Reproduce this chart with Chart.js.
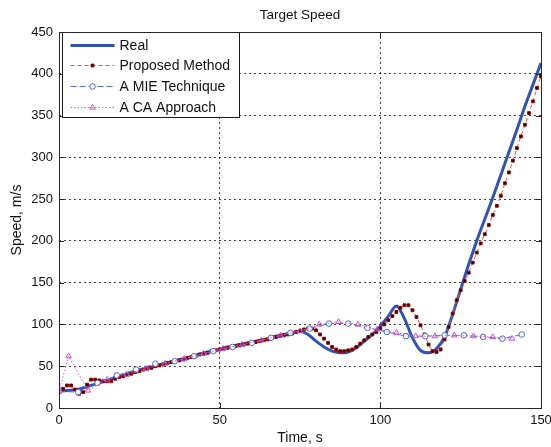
<!DOCTYPE html>
<html>
<head>
<meta charset="utf-8">
<title>Target Speed</title>
<script src="https://cdn.jsdelivr.net/npm/chart.js@4.4.0/dist/chart.umd.min.js"></script>
<style>
  html, body { margin: 0; padding: 0; background: #fff; }
  #wrap { width: 551px; height: 447px; }
</style>
</head>
<body>
<div id="wrap"><canvas id="myChart" width="551" height="447"></canvas></div>
<script>
'use strict';

let chartTitle = 'Target Speed';
let xTitle = 'Time, s';
let yTitle = 'Speed, m/s';
let seriesNames = ['Real', 'Proposed Method', 'A MIE Technique', 'A CA Approach'];
let xTicks = [0, 50, 100, 150];
let yTicks = [0, 50, 100, 150, 200, 250, 300, 350, 400, 450];

// real speed, sampled every 2.5 s
let realStep = 2.5;
let realSpeed = [20, 21, 22, 24, 27, 30, 33, 36, 39, 42,
    45, 48, 50, 53, 55, 58, 60, 63, 66, 68,
    70, 73, 75, 77, 79, 81, 83, 86, 88, 90,
    92, 88, 80, 73, 68, 66, 67, 72, 80, 88,
    98, 110, 122, 107, 84, 69, 66, 71, 85, 112,
    142, 172, 200, 226, 252, 279, 306, 333, 361, 387,
    413];

// proposed method, sampled every 1.25 s
let propStep = 1.25;
let propSpeed = [20, 23, 27, 27, 22, 17, 19, 28, 34, 34,
    33, 32, 32, 32, 35, 37, 38, 40, 41, 43,
    44, 46, 47, 48, 50, 51, 52, 54, 55, 56,
    57, 58, 60, 61, 62, 64, 65, 66, 68, 69,
    70, 71, 72, 73, 74, 75, 76, 77, 78, 79,
    80, 81, 82, 84, 85, 86, 87, 88, 89, 91,
    92, 94, 95, 95, 93, 88, 83, 78, 73, 70,
    68, 68, 69, 70, 73, 77, 81, 85, 88, 91,
    95, 100, 105, 110, 115, 120, 123, 123, 117, 109,
    99, 88, 76, 68, 67, 70, 82, 97, 113, 129,
    141, 152, 162, 174, 186, 197, 208, 219, 231, 242,
    254, 269, 282, 296, 311, 325, 339, 353, 367, 383,
    397];

let mieTime = [0, 6, 12, 18, 24, 30, 36, 42, 48, 54, 60, 66, 72, 78, 84, 90, 96, 102, 108, 114, 120, 126, 132, 138, 144];
let mieSpeed = [20, 19, 30, 39, 46, 53, 56, 62, 68, 73, 78, 84, 90, 95, 101, 101, 96, 91, 86, 86, 87, 87, 85, 83, 88];

let caTime = [0, 3, 9, 15, 21, 27, 33, 39, 45, 51, 57, 63, 69, 75, 81, 87, 93, 99, 105, 111, 117, 123, 129, 135, 141];
let caSpeed = [20, 62, 21, 34, 40, 47, 53, 59, 65, 71, 76, 81, 87, 92, 100, 103, 100, 94, 90, 86, 86, 87, 86, 85, 83];

let fontFamily = '"Liberation Sans", Arial, sans-serif';

function toPoints(times, values) {
    let pts = [];
    for (let i = 0; i < values.length; i++) {
        pts.push({ x: times[i], y: values[i] });
    }
    return pts;
}

function stepTimes(step, n) {
    let t = [];
    for (let i = 0; i < n; i++) {
        t.push(i * step);
    }
    return t;
}

let styles = [
    { color: '#3153b4', width: 3, dash: [], point: null },
    { color: '#ff4848', width: 1, dash: [4, 3], point: 'rect', fill: '#1a0000', edge: '#a00000', r: 2 },
    { color: '#4f6fcc', width: 1, dash: [6, 3], point: 'circle', fill: '#ffffff', edge: '#4a68c8', r: 2.8 },
    { color: '#d458d0', width: 1, dash: [1.5, 2], point: 'triangle', fill: 'rgba(255,255,255,0)', edge: '#c850c8', r: 3.2 }
];

function drawMarker(ctx, s, x, y) {
    if (!s.point) return;
    ctx.save();
    ctx.setLineDash([]);
    ctx.lineWidth = 1;
    ctx.fillStyle = s.fill;
    ctx.strokeStyle = s.edge;
    ctx.beginPath();
    if (s.point === 'rect') {
        let h = s.r * Math.SQRT1_2;
        ctx.rect(x - h, y - h, 2 * h, 2 * h);
    } else if (s.point === 'circle') {
        ctx.arc(x, y, s.r, 0, Math.PI * 2);
    } else {
        let r = s.r;
        ctx.moveTo(x, y - r);
        ctx.lineTo(x + r * 0.866, y + r * 0.5);
        ctx.lineTo(x - r * 0.866, y + r * 0.5);
        ctx.closePath();
    }
    ctx.fill();
    ctx.stroke();
    ctx.restore();
}

let framePlugin = {
    id: 'frame',
    afterDraw(chart) {
        let ctx = chart.ctx;
        let a = chart.chartArea;
        let xs = chart.scales.x;
        let ys = chart.scales.y;
        ctx.save();

        // title
        ctx.fillStyle = '#111';
        ctx.font = '13.5px ' + fontFamily;
        ctx.textAlign = 'center';
        ctx.textBaseline = 'middle';
        ctx.fillText(chartTitle, (a.left + a.right) / 2, 15);

        // inner tick marks
        ctx.strokeStyle = '#262626';
        ctx.lineWidth = 1;
        ctx.beginPath();
        xTicks.forEach(v => {
            let px = Math.round(xs.getPixelForValue(v)) + 0.5;
            ctx.moveTo(px, a.bottom); ctx.lineTo(px, a.bottom - 5);
            ctx.moveTo(px, a.top); ctx.lineTo(px, a.top + 5);
        });
        yTicks.forEach(v => {
            let py = Math.round(ys.getPixelForValue(v)) + 0.5;
            ctx.moveTo(a.left, py); ctx.lineTo(a.left + 5, py);
            ctx.moveTo(a.right, py); ctx.lineTo(a.right - 5, py);
        });
        ctx.stroke();

        // legend box
        let lx = Math.round(a.left) + 3.5, ly = Math.round(a.top) + 0.5;
        let lw = 177, lh = 85;
        ctx.fillStyle = '#fff';
        ctx.fillRect(lx, ly, lw, lh);
        ctx.strokeStyle = '#1a1a1a';
        ctx.strokeRect(lx, ly, lw, lh);
        ctx.font = '14px ' + fontFamily;
        ctx.textAlign = 'left';
        for (let i = 0; i < seriesNames.length; i++) {
            let s = styles[i];
            let y = Math.round(ly + 12 + i * 20.7) + 0.5;
            ctx.save();
            ctx.strokeStyle = s.color;
            ctx.lineWidth = s.width;
            ctx.setLineDash(s.dash);
            ctx.beginPath();
            ctx.moveTo(lx + 8, y);
            ctx.lineTo(lx + 52, y);
            ctx.stroke();
            ctx.restore();
            drawMarker(ctx, s, lx + 30, y);
            ctx.fillStyle = '#111';
            ctx.fillText(seriesNames[i], lx + 57, y + 1);
        }

        // axes box
        ctx.strokeStyle = '#262626';
        ctx.lineWidth = 1;
        ctx.strokeRect(Math.round(a.left) + 0.5, Math.round(a.top) + 0.5,
            Math.round(a.right - a.left), Math.round(a.bottom - a.top));
        ctx.restore();
    }
};

let ctx = document.getElementById('myChart').getContext('2d');
let myChart = new Chart(ctx, {
    type: 'line',
    data: {
        datasets: [
            {
                label: seriesNames[0],
                data: toPoints(stepTimes(realStep, realSpeed.length), realSpeed),
                borderColor: styles[0].color,
                borderWidth: 3,
                pointRadius: 0,
                cubicInterpolationMode: 'monotone',
                order: 4
            },
            {
                label: seriesNames[1],
                data: toPoints(stepTimes(propStep, propSpeed.length), propSpeed),
                borderColor: styles[1].color,
                borderWidth: 1,
                borderDash: styles[1].dash,
                pointStyle: 'rect',
                pointRadius: styles[1].r,
                pointBackgroundColor: styles[1].fill,
                pointBorderColor: styles[1].edge,
                pointBorderWidth: 1,
                order: 3
            },
            {
                label: seriesNames[2],
                data: toPoints(mieTime, mieSpeed),
                borderColor: styles[2].color,
                borderWidth: 1,
                borderDash: styles[2].dash,
                pointStyle: 'circle',
                pointRadius: styles[2].r,
                pointBackgroundColor: styles[2].fill,
                pointBorderColor: styles[2].edge,
                pointBorderWidth: 1,
                order: 2
            },
            {
                label: seriesNames[3],
                data: toPoints(caTime, caSpeed),
                borderColor: styles[3].color,
                borderWidth: 1,
                borderDash: styles[3].dash,
                pointStyle: 'triangle',
                pointRadius: styles[3].r,
                pointBackgroundColor: styles[3].fill,
                pointBorderColor: styles[3].edge,
                pointBorderWidth: 1,
                order: 1
            }
        ]
    },
    options: {
        responsive: false,
        animation: false,
        devicePixelRatio: 1,
        layout: { padding: { top: 32, right: 0, left: 0, bottom: 0 } },
        plugins: {
            legend: { display: false },
            tooltip: { enabled: false },
            title: { display: false }
        },
        elements: { line: { tension: 0, fill: false } },
        scales: {
            x: {
                type: 'linear',
                min: 0,
                max: 150,
                afterFit: scale => {
                    scale.height = 39;
                    scale.paddingRight = 10;
                    scale.paddingLeft = 0;
                },
                ticks: {
                    stepSize: 50,
                    color: '#111',
                    padding: 5,
                    maxRotation: 0,
                    font: { family: fontFamily, size: 13 }
                },
                grid: { color: 'rgba(0,0,0,0.75)', lineWidth: 1, drawTicks: false },
                border: { display: false, dash: [2, 3] },
                title: {
                    display: true,
                    text: xTitle,
                    color: '#111',
                    font: { family: fontFamily, size: 14 },
                    padding: { top: 0, bottom: 0 }
                }
            },
            y: {
                min: 0,
                max: 450,
                afterFit: scale => { scale.width = 59; },
                ticks: {
                    stepSize: 50,
                    color: '#111',
                    padding: 6,
                    font: { family: fontFamily, size: 13 }
                },
                grid: { color: 'rgba(0,0,0,0.75)', lineWidth: 1, drawTicks: false },
                border: { display: false, dash: [2, 3] },
                title: {
                    display: true,
                    text: yTitle,
                    color: '#111',
                    font: { family: fontFamily, size: 14 },
                    padding: { top: 9, bottom: 0 }
                }
            }
        }
    },
    plugins: [framePlugin]
});
</script>
</body>
</html>
